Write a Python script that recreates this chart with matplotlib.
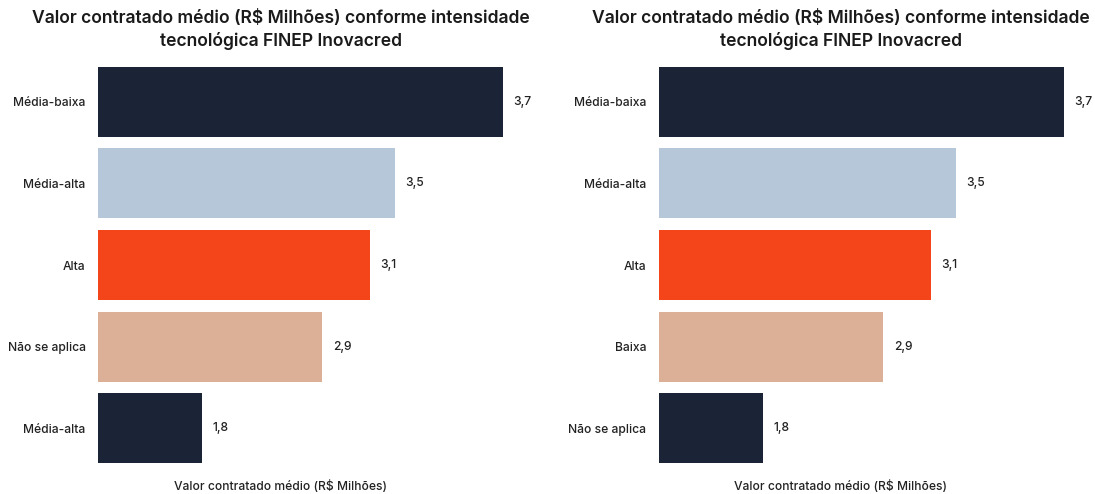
import matplotlib.pyplot as plt

plt.rcParams["font.family"] = ["Inter", "DejaVu Sans"]

# dados
titulo = "Valor contratado médio (R$ Milhões) conforme intensidade\ntecnológica FINEP Inovacred"
eixo_x = "Valor contratado médio (R$ Milhões)"
cat_esq = ["Média-baixa", "Média-alta", "Alta", "Não se aplica", "Média-alta"]
cat_dir = ["Média-baixa", "Média-alta", "Alta", "Baixa", "Não se aplica"]
rotulos = ["3,7", "3,5", "3,1", "2,9", "1,8"]
comprimento = [3.70, 2.71, 2.48, 2.05, 0.95]  # comprimento das barras como desenhado
cores = ["#1b2437", "#b5c7d9", "#f44419", "#dbb096", "#1b2437"]

fig = plt.figure(figsize=(10.95, 4.94), dpi=100)
W, H = 1095, 494


def painel(x0, cats, centro):
    ax = fig.add_axes([x0 / W, 1 - 469 / H, 430 / W, 408 / H])
    ax.barh(range(len(cats)), comprimento, height=0.86, color=cores)
    for i, (c, r) in enumerate(zip(comprimento, rotulos)):
        ax.text(c + 0.095, i, r, va="center", ha="left", fontsize=8.7,
                fontweight="medium", color="#222222")
    ax.set_yticks(range(len(cats)))
    ax.set_yticklabels(cats, fontsize=8.7, fontweight="medium", color="#222222")
    ax.set_ylim(4.5, -0.5)
    ax.set_xlim(0, 430 / 109.5)
    ax.set_xticks([])
    ax.tick_params(axis="y", length=0, pad=9)
    for s in ax.spines.values():
        s.set_visible(False)
    fig.text(centro / W, 1 - 10 / H, titulo, ha="center", va="top",
             fontsize=12.6, fontweight="semibold", color="#1a1a1a", linespacing=1.35)
    fig.text(centro / W, 1 - 486 / H, eixo_x, ha="center", va="center",
             fontsize=8.7, fontweight="medium", color="#222222")
    return ax


painel(98, cat_esq, 281)
painel(659, cat_dir, 841)

fig.savefig("out.png", dpi=100)
